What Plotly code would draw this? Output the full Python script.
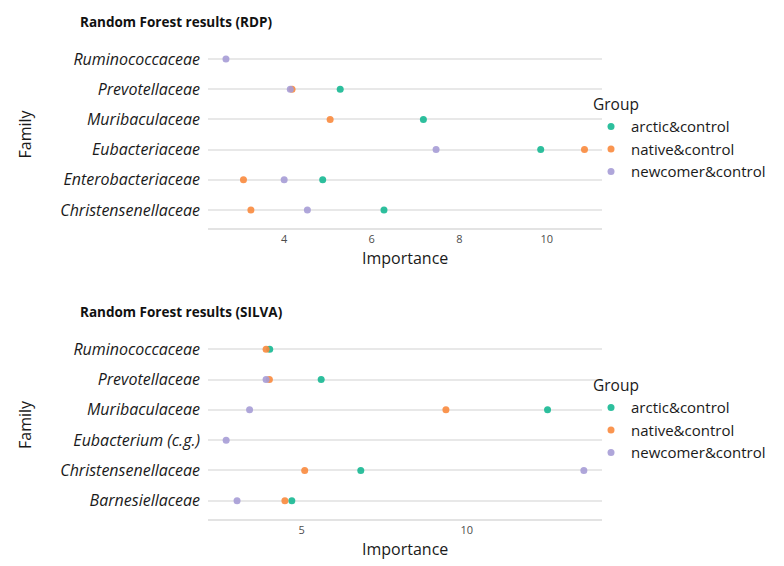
import plotly.graph_objects as go

groups = ["arctic&control", "native&control", "newcomer&control"]
colors = ["#16B892", "#F98A3D", "#A69CD6"]

rdp_families = ["Ruminococcaceae", "Prevotellaceae", "Muribaculaceae",
                "Eubacteriaceae", "Enterobacteriaceae", "Christensenellaceae"]
rdp_arctic = [None, 5.28, 7.18, 9.86, 4.88, 6.28]
rdp_native = [None, 4.18, 5.05, 10.86, 3.07, 3.24]
rdp_newcomer = [2.67, 4.14, None, 7.47, 4.00, 4.53]

silva_families = ["Ruminococcaceae", "Prevotellaceae", "Muribaculaceae",
                  "Eubacterium (c.g.)", "Christensenellaceae", "Barnesiellaceae"]
silva_arctic = [4.03, 5.59, 12.45, None, 6.79, 4.70]
silva_native = [3.92, 4.02, 9.37, None, 5.09, 4.49]
silva_newcomer = [None, 3.92, 3.42, 2.71, 13.55, 3.04]

FONT = "Open Sans"

fig = go.Figure()

panels = [
    (rdp_families, [rdp_arctic, rdp_native, rdp_newcomer], "x", "y", "legend"),
    (silva_families, [silva_arctic, silva_native, silva_newcomer], "x2", "y2", "legend2"),
]
for fams, series, xa, ya, lg in panels:
    for g, c, vals in zip(groups, colors, series):
        xs = [v for v in vals if v is not None]
        ys = [f for f, v in zip(fams, vals) if v is not None]
        fig.add_trace(go.Scatter(
            x=xs, y=ys, mode="markers", name=g, xaxis=xa, yaxis=ya, legend=lg,
            marker=dict(color=c, size=7, opacity=0.9, line=dict(width=0)),
        ))

grid = "#e8e8e8"
yax = dict(type="category", showgrid=True, gridcolor=grid, gridwidth=1.5,
           zeroline=False, showline=False, ticks="",
           tickfont=dict(family=FONT, size=16, color="#1a1a1a", style="italic"),
           ticklabelstandoff=7)
xax = dict(showgrid=False, zeroline=False, showline=True, linecolor="#e3e3e3",
           linewidth=1.5, ticks="",
           tickfont=dict(family=FONT, size=11, color="#4d4d4d"))

leg = dict(x=0.9721, xanchor="left", yanchor="top",
           title=dict(text="Group", font=dict(size=15.5, color="#1a1a1a")),
           font=dict(size=15, color="#1a1a1a"), itemwidth=30,
           tracegroupgap=0, bgcolor="rgba(0,0,0,0)", borderwidth=0)

fig.update_layout(
    width=784, height=566,
    margin=dict(l=208, r=182, t=41, b=47),
    paper_bgcolor="white", plot_bgcolor="white",
    font=dict(family=FONT),
    xaxis=dict(xax, domain=[0, 1], anchor="y", range=[2.26, 11.26],
               tickvals=[4, 6, 8, 10]),
    yaxis=dict(yax, domain=[0.6088, 1.0], anchor="x",
               categoryorder="array", categoryarray=rdp_families[::-1],
               range=[-0.6, 5.6]),
    xaxis2=dict(xax, domain=[0, 1], anchor="y2", range=[2.16, 14.1],
                tickvals=[5, 10]),
    yaxis2=dict(yax, domain=[0.0, 0.3933], anchor="x2",
                categoryorder="array", categoryarray=silva_families[::-1],
                range=[-0.6, 5.6]),
    legend=dict(leg, y=0.8975),
    legend2=dict(leg, y=0.3096),
)

ann = []
for ttl, xr, yr in [("Random Forest results (RDP)", "x", "y"),
                    ("Random Forest results (SILVA)", "x2", "y2")]:
    ann.append(dict(text="<b>" + ttl + "</b>", xref=xr + " domain", yref=yr + " domain",
                    x=0, y=1, xanchor="left", yanchor="middle", xshift=-130, yshift=19,
                    showarrow=False, font=dict(family=FONT, size=13.5, color="#111111")))
    ann.append(dict(text="Importance", xref=xr + " domain", yref=yr + " domain",
                    x=0.5, y=0, xanchor="center", yanchor="middle", yshift=-30,
                    showarrow=False, font=dict(family=FONT, size=16, color="#1a1a1a")))
    ann.append(dict(text="Family", xref=xr + " domain", yref=yr + " domain",
                    x=0, y=0.5, xanchor="center", yanchor="middle", xshift=-183,
                    textangle=-90, showarrow=False,
                    font=dict(family=FONT, size=16, color="#1a1a1a")))
fig.update_layout(annotations=ann)

fig.write_html("out.html", config={"displayModeBar": False},
               post_script="document.body.style.margin='0';document.body.style.overflow='hidden';")
